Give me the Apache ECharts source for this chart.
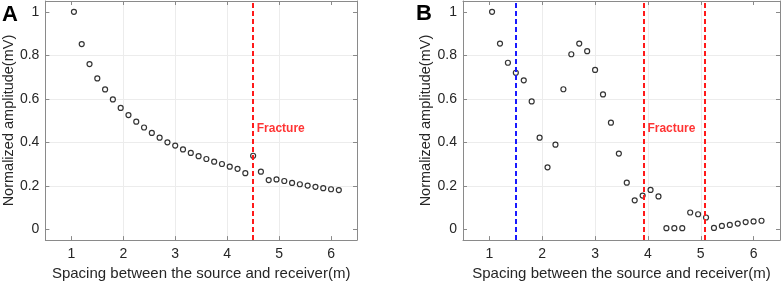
<!DOCTYPE html>
<html><head><meta charset="utf-8">
<script src="https://cdn.jsdelivr.net/npm/echarts@6/dist/echarts.min.js"></script>
<style>html,body{margin:0;padding:0;background:#fff}#c{width:782px;height:286px}</style>
</head><body><div id="c"></div>
<script>
const spacing = [1.05,1.2,1.35,1.5,1.65,1.8,1.95,2.1,2.25,2.4,2.55,2.7,2.85,3.0,3.15,3.3,3.45,3.6,3.75,3.9,4.05,4.2,4.35,4.5,4.65,4.8,4.95,5.1,5.25,5.4,5.55,5.7,5.85,6.0,6.15];
const ampA = [1.0,0.852,0.760,0.694,0.643,0.597,0.558,0.525,0.495,0.468,0.443,0.421,0.400,0.385,0.367,0.351,0.336,0.323,0.311,0.300,0.288,0.278,0.258,0.338,0.265,0.226,0.229,0.222,0.213,0.207,0.201,0.195,0.189,0.184,0.180];
const ampB = [1.0,0.854,0.766,0.720,0.685,0.588,0.421,0.285,0.389,0.644,0.805,0.854,0.819,0.733,0.620,0.490,0.348,0.214,0.133,0.155,0.181,0.151,0.005,0.005,0.005,0.077,0.069,0.054,0.006,0.015,0.020,0.026,0.033,0.036,0.039];
const xTicks = [1,2,3,4,5,6];
const yTicks = [0,0.2,0.4,0.6,0.8,1];
const fractureA = [4.5];
const fractureB = [3.93,5.07];
const blueLineB = [1.5];
const labelText = 'Fracture';
const panelLetters = ['A','B'];

const FONT = 'Liberation Sans, Arial, sans-serif';
const chart = echarts.init(document.getElementById('c'));
const grids = [
  {left:41, top:1, width:316, height:243},
  {left:463, top:1, width:317, height:243}
];
const boxColor = '#8a8a8a';
function xAx(i, pos){
  const main = pos === 'bottom';
  return {type:'value', gridIndex:i, position:pos, min:0.5, max:6.5, interval:0.5,
    axisLine:{show:true, onZero:false, lineStyle:{color:boxColor, width:1}},
    axisTick:{show:true, inside:true, length:4, lineStyle:{color:boxColor},
      customValues: xTicks},
    axisLabel:{show:main, color:'#262626', fontSize:14, fontFamily:FONT, margin:7,
      customValues: xTicks, formatter: v=>String(v)},
    splitLine:{show:main, lineStyle:{color:'#ececec', width:1}, showMinLine:false, showMaxLine:false},
    name: main ? 'Spacing between the source and receiver(m)' : '',
    nameLocation:'middle', nameGap:25,
    nameTextStyle:{color:'#262626', fontSize:15, fontFamily:FONT}
  };
}
function yAx(i, pos){
  const main = pos === 'left';
  return {type:'value', gridIndex:i, position:pos, min:-0.05, max:1.05, interval:0.05,
    axisLine:{show:true, onZero:false, lineStyle:{color:boxColor, width:1}},
    axisTick:{show:true, inside:true, length:4, lineStyle:{color:boxColor}, customValues: yTicks},
    axisLabel:{show:main, color:'#262626', fontSize:14, fontFamily:FONT, margin:6,
      customValues: yTicks, formatter: v=>String(v)},
    splitLine:{show:main, lineStyle:{color:'#ececec', width:1}, showMinLine:false, showMaxLine:false},
    name: main ? 'Normalized amplitude(mV)' : '',
    nameLocation:'middle', nameGap:25,
    nameTextStyle:{color:'#262626', fontSize:14.5, fontFamily:FONT}
  };
}
function vlines(vals, color){
  return {symbol:['none','none'], silent:true, animation:false,
    lineStyle:{color:color, type:[5,3], width:2},
    label:{show:false}, data: vals.map(v=>({xAxis:v}))};
}
function scatter(i, ys, lines){
  return {type:'scatter', xAxisIndex:i*2, yAxisIndex:i*2, symbol:'circle', symbolSize:5,
    itemStyle:{color:'#fff', borderColor:'#000', borderWidth:1.2}, animation:false,
    data: spacing.map((x,k)=>[x, ys[k]]), markLine: lines, z:3};
}
function textSeries(i, x, y){
  return {type:'scatter', xAxisIndex:i*2, yAxisIndex:i*2, symbolSize:0, silent:true, animation:false,
    data:[[x,y]], label:{show:true, position:'right', distance:0, formatter:labelText,
      color:'#ff0000', fontWeight:'bold', fontSize:12, fontFamily:FONT}};
}
const series = [
  scatter(0, ampA, vlines(fractureA, '#ff1a1a')),
  scatter(1, ampB, {symbol:['none','none'], silent:true, animation:false, label:{show:false},
    data: blueLineB.map(v=>({xAxis:v, lineStyle:{color:'#1a1aff', type:[5,3], width:2}}))
      .concat(fractureB.map(v=>({xAxis:v, lineStyle:{color:'#ff1a1a', type:[5,3], width:2}})))}),
  textSeries(0, 4.57, 0.463),
  textSeries(1, 3.99, 0.463)
];
chart.setOption({
  animation:false,
  grid: grids,
  xAxis: [xAx(0,'bottom'), xAx(0,'top'), xAx(1,'bottom'), xAx(1,'top')],
  yAxis: [yAx(0,'left'), yAx(0,'right'), yAx(1,'left'), yAx(1,'right')],
  series: series,
  graphic: [
    {type:'text', left:2, top:4, style:{text:panelLetters[0], font:'bold 22px '+FONT, fill:'#000'}},
    {type:'text', left:416, top:3, style:{text:panelLetters[1], font:'bold 22px '+FONT, fill:'#000'}}
  ]
});
</script></body></html>
